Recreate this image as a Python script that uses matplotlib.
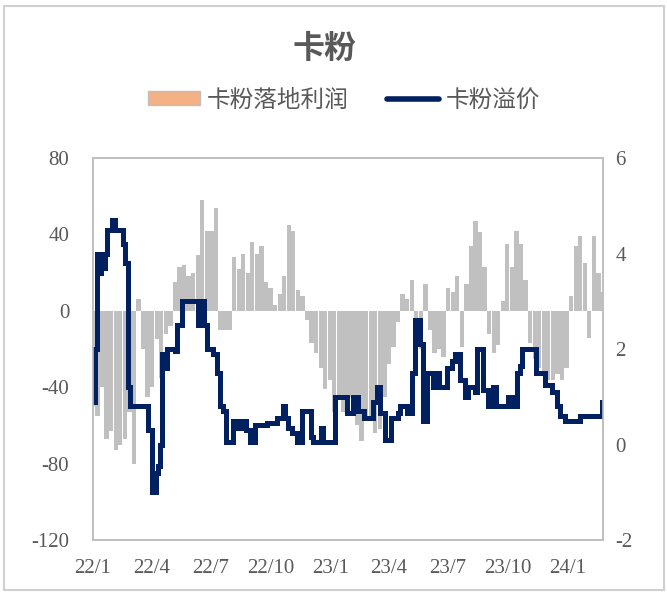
import matplotlib
matplotlib.use("Agg")
import matplotlib.pyplot as plt
import matplotlib.dates as mdates
from matplotlib.patches import Patch, Rectangle
from matplotlib.lines import Line2D
import pandas as pd

plt.rcParams["axes.unicode_minus"] = False

# weekly landed profit of 卡粉 (left axis), starting 2022-01-01
profit = [-50, -55, -40, -67, -63, -73, -70, -67, -53, -80,
          6, -20, -45, -40, -15, -35, -12, -8, 15, 23,
          24, 18, 20, 29, 58, 42, 42, 54, -10, -10,
          -10, 28, 22, 30, 20, 36, 30, 34, 15, 12,
          3, 9, 18, 45, 42, 11, 8, -5, -17, -22,
          -30, -41, -36, -53, -45, -53, -50, -45, -60, -68,
          -55, -57, -64, -62, -45, -28, -19, -6, 9, 6,
          16, -5, -20, 14, -10, -22, -20, -24, 12, 10,
          18, -19, 14, 34, 47, 41, 23, -12, -22, -18,
          5, 35, 23, 42, 35, 16, -17, -25, -30, -33,
          -36, -36, -33, -36, -30, 8, 34, 39, 25, -14,
          39, 20, 10]
profit_dates = pd.date_range("2022-01-01", periods=len(profit), freq="7D")

# premium (right axis), value changes
prem_dates = ["2022-01-01", "2022-01-04", "2022-01-07", "2022-01-10", "2022-01-13",
              "2022-01-16", "2022-01-19", "2022-01-23", "2022-01-30", "2022-02-04",
              "2022-02-16", "2022-02-19", "2022-02-24", "2022-02-27", "2022-03-27",
              "2022-04-02", "2022-04-08", "2022-04-11", "2022-04-14", "2022-04-17",
              "2022-04-22", "2022-04-25", "2022-05-07", "2022-05-10", "2022-05-18",
              "2022-06-11", "2022-06-16", "2022-06-21", "2022-06-25", "2022-07-04",
              "2022-07-11", "2022-07-15", "2022-07-20", "2022-07-24", "2022-08-04",
              "2022-08-12", "2022-08-18", "2022-08-24", "2022-08-30", "2022-09-07",
              "2022-09-25", "2022-10-11", "2022-10-20", "2022-10-23", "2022-10-28",
              "2022-11-03", "2022-11-11", "2022-11-18", "2022-12-02", "2022-12-05",
              "2022-12-17", "2022-12-21", "2023-01-08", "2023-01-26", "2023-02-05",
              "2023-02-12", "2023-02-22", "2023-03-07", "2023-03-14", "2023-03-18",
              "2023-03-26", "2023-04-04", "2023-04-15", "2023-04-18", "2023-04-29",
              "2023-05-06", "2023-05-11", "2023-05-19", "2023-05-23", "2023-05-29",
              "2023-06-08", "2023-06-14", "2023-06-17", "2023-06-29", "2023-07-07",
              "2023-07-11", "2023-07-19", "2023-07-27", "2023-07-31", "2023-08-11",
              "2023-08-14", "2023-08-23", "2023-08-31", "2023-09-08", "2023-09-12",
              "2023-10-01", "2023-10-07", "2023-10-15", "2023-10-19", "2023-10-22",
              "2023-11-13", "2023-11-27", "2023-12-07", "2023-12-15", "2023-12-20",
              "2023-12-27", "2024-01-20", "2024-02-22", "2024-02-24"]
premium = [0.9, 2.0, 4.0, 3.6, 4.0,
           3.7, 4.0, 4.5, 4.7, 4.5,
           4.2, 3.8, 1.2, 0.8, 0.3,
           -1.0, -0.6, -0.45, 0.0, 1.9,
           1.6, 2.0, 1.95, 2.5, 3.0,
           2.5, 3.0, 2.5, 2.0, 1.9,
           1.5, 0.8, 0.7, 0.05, 0.5,
           0.35, 0.5, 0.3, 0.05, 0.4,
           0.45, 0.55, 0.8, 0.55, 0.35,
           0.25, 0.05, 0.7, 0.15, 0.05,
           0.35, 0.05, 1.0, 0.65, 1.0,
           0.7, 0.55, 0.9, 1.2, 0.65,
           0.1, 0.55, 0.65, 0.8, 0.65,
           1.5, 2.6, 2.1, 0.5, 1.5,
           1.2, 1.5, 1.2, 1.6, 1.75,
           1.9, 1.35, 1.0, 1.2, 1.1,
           2.0, 1.15, 0.8, 1.2, 0.8,
           1.0, 0.8, 1.5, 1.65, 2.0,
           1.5, 1.25, 1.1, 0.8, 0.6,
           0.5, 0.6, 0.9, 0.9]

left_ticks = [-120, -80, -40, 0, 40, 80]
right_ticks = [-2, 0, 2, 4, 6]

GREY = "#595959"
EDGE = "#BFBFBF"
NAVY = "#002060"
CJK = ["Noto Sans CJK SC", "DejaVu Sans"]

fig = plt.figure(figsize=(6.67, 5.92), dpi=100)
ax = fig.add_axes([0.1394, 0.0878, 0.7646, 0.6453])

ax.bar(profit_dates, profit, width=6.6, color="#C0C0C0", linewidth=0)
ax.set_ylim(-120, 80)
ax.set_yticks(left_ticks)
ax.set_xlim(pd.Timestamp("2022-01-01"), pd.Timestamp("2024-02-24"))

ax2 = ax.twinx()
ax2.plot(pd.to_datetime(prem_dates), premium, drawstyle="steps-post",
         color=NAVY, lw=3.6, solid_joinstyle="miter")
ax2.set_ylim(-2, 6)
ax2.set_yticks(right_ticks)

ax.xaxis.set_major_locator(mdates.MonthLocator(bymonth=[1, 4, 7, 10]))
ax.xaxis.set_major_formatter(plt.FuncFormatter(
    lambda v, p: "%d/%d" % (mdates.num2date(v).year % 100, mdates.num2date(v).month)))

for a in (ax, ax2):
    for s in a.spines.values():
        s.set_color(EDGE)
        s.set_linewidth(1.2)
    a.tick_params(length=0, colors=GREY, labelsize=15)
    for lab in a.get_xticklabels() + a.get_yticklabels():
        lab.set_fontfamily("Liberation Serif")
ax.tick_params(axis="y", pad=17)
ax.tick_params(axis="x", pad=14)
ax2.tick_params(axis="y", pad=9)

fig.text(0.487, 0.918, "卡粉", ha="center", va="center", fontsize=23,
         fontweight="bold", color=GREY, family=CJK)

handles = [Patch(facecolor="#F4B183", edgecolor=EDGE, linewidth=1),
           Line2D([], [], color=NAVY, lw=4, solid_capstyle="round")]
leg = fig.legend(handles, ["卡粉落地利润", "卡粉溢价"], loc="center",
                 bbox_to_anchor=(0.516, 0.831), ncol=2, frameon=False,
                 prop={"family": CJK, "size": 17}, labelcolor=GREY,
                 handlelength=2.2, handleheight=0.55, handletextpad=0.3,
                 columnspacing=1.6)

fig.patches.append(Rectangle((0.006, 0.003), 0.99, 0.987, transform=fig.transFigure,
                             fill=False, edgecolor="#D0D0D0", linewidth=1.5))

fig.savefig("out.png", dpi=100)
